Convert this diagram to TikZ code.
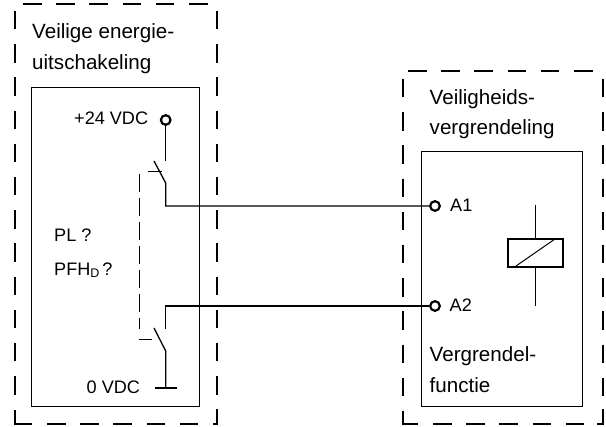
\documentclass[tikz,border=0pt]{standalone}
\usepackage{fontspec}
\setmainfont{Liberation Sans}
\tikzset{
  zone/.style={draw, line width=2pt, dash pattern=on 18.5pt off 14.7pt},
  corner/.style={draw, line width=2pt},
  unit/.style={draw, line width=1pt},
  wire/.style={draw, line width=1.3pt},
  thinwire/.style={draw, line width=1pt},
  terminal/.style={circle, draw, line width=2.2pt, inner sep=0pt, minimum size=9.6pt},
  title/.style={inner sep=0pt, anchor=base west, font=\fontsize{20.6pt}{24pt}\selectfont},
  lbl/.style={inner sep=0pt, anchor=base west, font=\fontsize{18.1pt}{21pt}\selectfont}
}
\begin{document}
\begin{tikzpicture}[x=1pt,y=-1pt]
  \useasboundingbox (0,0) rectangle (606,427);
  % safety boundaries
  \draw[zone] (23,4.5) -- (208,4.5);
  \draw[zone] (15,11) -- (15,400);
  \draw[zone] (216.5,11) -- (216.5,400);
  \draw[zone] (47,424) -- (199,424);
  \draw[corner] (15,410) -- (15,424) -- (32,424);
  \draw[corner] (213,424) -- (216.5,424) -- (216.5,409);
  \draw[zone] (408,71) -- (594,71);
  \draw[zone] (402.5,79) -- (402.5,396);
  \draw[zone] (603,79) -- (603,396);
  \draw[zone] (433,424) -- (586,424);
  \draw[corner] (402.5,411) -- (402.5,424) -- (418,424);
  \draw[corner] (597,424) -- (603,424) -- (603,409);
  \draw[unit] (31.5,88) rectangle (199.5,407);
  \draw[unit] (421.5,152) rectangle (582.5,407);
  % texts
  \node[title] (t1) at (32,38.5) {Veilige energie-};
  \node[title] (t2) at (32,70) {uitschakeling};
  \node[title] (t3) at (429.5,105) {Veiligheids-};
  \node[title] (t4) at (429.5,135) {vergrendeling};
  \node[title] (t5) at (429.5,362) {Vergrendel-};
  \node[title] (t6) at (429.5,393) {functie};
  \node[lbl] (pl) at (54,241.5) {PL ?};
  \node[lbl] (pfh) at (54,275.5) {PFH\raisebox{-2pt}{\fontsize{12.5pt}{12.5pt}\selectfont D}\,?};
  \node[lbl] (vcc) at (74,125) {+24 VDC};
  \node[lbl] (gnd) at (86.5,394) {0 VDC};
  \node[lbl] (a1lbl) at (450,212) {A1};
  \node[lbl] (a2lbl) at (449.5,312) {A2};
  % terminals
  \node[terminal] (vccpin) at (165.7,120) {};
  \node[terminal] (a1) at (435,206) {};
  \node[terminal] (a2) at (435,306) {};
  % upper contact
  \coordinate (s1top) at (165.7,161);
  \coordinate (s1blade) at (154,161);
  \coordinate (s1end) at (165.7,183);
  \coordinate (s1act) at (148,172);
  \coordinate (s1mid) at (162,172);
  \draw[wire] (vccpin) -- (s1top);
  \draw[wire] (s1blade) -- (s1end) |- (a1);
  \draw[thinwire] (s1act) -- (s1mid);
  % lower contact
  \coordinate (s2top) at (165.7,329);
  \coordinate (s2blade) at (154,328);
  \coordinate (s2end) at (165.7,351);
  \coordinate (s2act) at (139,340);
  \coordinate (s2mid) at (152,340);
  \coordinate (gndpin) at (165.7,388);
  \coordinate (gndl) at (155,388);
  \coordinate (gndr) at (177,388);
  \draw[wire] (a2) -| (s2top);
  \draw[wire] (s2blade) -- (s2end) -- (gndpin);
  \draw[thinwire] (s2act) -- (s2mid);
  \draw[line width=2pt] (gndl) -- (gndr);
  % linkage
  \coordinate (linka) at (139,174);
  \coordinate (linkb) at (139,329.5);
  \draw[thinwire, dash pattern=on 18pt off 6pt] (linka) -- (linkb);
  % coil
  \node[draw, line width=2pt, minimum width=54.5pt, minimum height=27.5pt, inner sep=0pt] (coil) at (535.5,252.8) {};
  \coordinate (coiltop) at (535.5,205);
  \coordinate (coilbot) at (535.5,306);
  \coordinate (coildl) at (516,266);
  \coordinate (coilur) at (555,239);
  \draw[thinwire] (coiltop) -- (coil);
  \draw[thinwire] (coil) -- (coilbot);
  \draw[thinwire] (coildl) -- (coilur);
\end{tikzpicture}
\end{document}
